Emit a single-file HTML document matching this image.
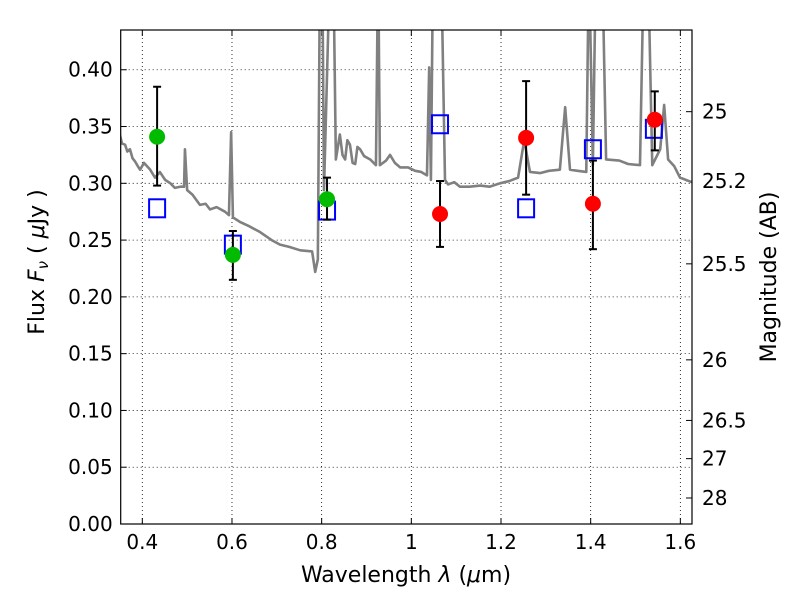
<!DOCTYPE html>
<html><head><meta charset="utf-8"><style>
body{margin:0;background:#fff}
svg text{font-family:"DejaVu Sans","Liberation Sans",sans-serif;font-size:20px;fill:#000}
svg text.title{font-size:22px}
</style></head><body>
<svg id="c" width="800" height="600"></svg>
<script>
const specLam=[0.3498,0.3547,0.3616,0.3665,0.3724,0.3783,0.3842,0.3901,0.3950,0.4038,0.4175,0.4283,0.4391,0.4509,0.4627,0.4725,0.4843,0.4931,0.4951,0.5000,0.5118,0.5285,0.5412,0.5510,0.5657,0.5844,0.5932,0.5981,0.6021,0.6178,0.6394,0.6629,0.6884,0.7071,0.7277,0.7522,0.7787,0.7856,0.7915,0.7964,0.8013,0.8052,0.8190,0.8258,0.8317,0.8406,0.8465,0.8524,0.8573,0.8631,0.8690,0.8749,0.8798,0.8857,0.8946,0.9083,0.9211,0.9260,0.9299,0.9436,0.9525,0.9633,0.9750,0.9927,1.0084,1.0221,1.0349,1.0398,1.0437,1.0486,1.0663,1.0751,1.0820,1.0957,1.1085,1.1301,1.1537,1.1743,1.1978,1.2184,1.2381,1.2518,1.2646,1.2872,1.3068,1.3313,1.3431,1.3539,1.3706,1.3902,1.3961,1.4049,1.4118,1.4255,1.4344,1.4638,1.4835,1.5100,1.5188,1.5276,1.5374,1.5551,1.5639,1.5727,1.5865,1.5993,1.6258];
const specFlux=[0.343,0.335,0.334,0.328,0.330,0.322,0.319,0.315,0.312,0.318,0.312,0.305,0.310,0.303,0.300,0.296,0.297,0.297,0.330,0.294,0.290,0.281,0.282,0.277,0.279,0.275,0.272,0.345,0.270,0.266,0.262,0.257,0.250,0.246,0.244,0.241,0.240,0.222,0.233,0.50,0.50,0.294,0.50,0.50,0.321,0.343,0.325,0.321,0.338,0.334,0.318,0.317,0.332,0.330,0.324,0.321,0.316,0.50,0.316,0.320,0.325,0.318,0.314,0.314,0.311,0.310,0.307,0.402,0.303,0.50,0.50,0.303,0.299,0.301,0.297,0.297,0.298,0.297,0.300,0.302,0.305,0.338,0.310,0.309,0.311,0.312,0.367,0.312,0.311,0.310,0.50,0.316,0.50,0.50,0.321,0.320,0.317,0.316,0.50,0.50,0.316,0.330,0.369,0.321,0.315,0.305,0.301];
const greenLam=[0.433,0.602,0.812], greenFlux=[0.341,0.237,0.286], greenLo=[0.298,0.215,0.268], greenHi=[0.385,0.258,0.305];
const redLam=[1.064,1.256,1.405,1.543], redFlux=[0.273,0.340,0.282,0.356], redLo=[0.244,0.290,0.242,0.329], redHi=[0.302,0.390,0.320,0.381];
const sqLam=[0.433,0.602,0.812,1.064,1.256,1.405,1.541], sqFlux=[0.278,0.246,0.276,0.352,0.278,0.330,0.348];
const xTicks=[0.4,0.6,0.8,1.0,1.2,1.4,1.6], xTickLabels=["0.4","0.6","0.8","1","1.2","1.4","1.6"];
const yTicks=[0,0.05,0.1,0.15,0.2,0.25,0.3,0.35,0.4];
const magTicks=[25,25.2,25.5,26,26.5,27,28], magLabels=["25","25.2","25.5","26","26.5","27","28"];
const L=120.7,R=692,T=30,B=524,X0=0.3518,X1=1.626,Y0=0,Y1=0.435;
const sx=v=>L+(v-X0)/(X1-X0)*(R-L), sy=v=>B-(v-Y0)/(Y1-Y0)*(B-T);
const svg=document.getElementById('c'),NS='http://www.w3.org/2000/svg';
function mk(t,a,p){const e=document.createElementNS(NS,t);for(const k in a)e.setAttribute(k,a[k]);(p||svg).appendChild(e);return e;}
const clip=mk('clipPath',{id:'pc'});mk('rect',{x:L,y:T,width:R-L,height:B-T},clip);
xTicks.forEach((v,i)=>{const x=sx(v);
 const g=mk('line',{x1:x,x2:x,y1:T,y2:B,stroke:'#000','stroke-width':0.8,'stroke-dasharray':'1,3'});
 
 mk('line',{x1:x,x2:x,y1:B,y2:B-6,stroke:'#000'});mk('line',{x1:x,x2:x,y1:T,y2:T+6,stroke:'#000'});
 const t=mk('text',{x:x,y:B+25,'text-anchor':'middle'});t.textContent=xTickLabels[i];
 });
yTicks.forEach(v=>{const y=sy(v);
 const g=mk('line',{x1:L,x2:R,y1:y,y2:y,stroke:'#000','stroke-width':0.8,'stroke-dasharray':'1,3'});
 
 mk('line',{x1:L,x2:L+6,y1:y,y2:y,stroke:'#000'});
 const t=mk('text',{x:L-8,y:y+7,'text-anchor':'end'});t.textContent=v.toFixed(2);
 });
magTicks.forEach((m,i)=>{const y=sy(Math.pow(10,(23.9-m)/2.5));
 mk('line',{x1:R-6,x2:R,y1:y,y2:y,stroke:'#000'});
 const t=mk('text',{x:R+10,y:y+7});t.textContent=magLabels[i];
 });
const pg=mk('g',{'clip-path':'url(#pc)'});
const sp=mk('polyline',{points:specLam.map((l,i)=>sx(l)+','+sy(specFlux[i])).join(' '),fill:'none',stroke:'#808080','stroke-width':2.6,'stroke-linejoin':'round'},pg);

sqLam.forEach((l,i)=>{const r=mk('rect',{x:sx(l)-8,y:sy(sqFlux[i])-9,width:16,height:18,fill:'none',stroke:'#0000ff','stroke-width':2},pg);
 });
function pts(lam,fl,lo,hi,col,name){lam.forEach((l,i)=>{const x=sx(l);
 const e=mk('g',{},pg);
 mk('line',{x1:x,x2:x,y1:sy(lo[i]),y2:sy(hi[i]),stroke:'#000','stroke-width':2},e);
 mk('line',{x1:x-4,x2:x+4,y1:sy(lo[i]),y2:sy(lo[i]),stroke:'#000','stroke-width':2},e);
 mk('line',{x1:x-4,x2:x+4,y1:sy(hi[i]),y2:sy(hi[i]),stroke:'#000','stroke-width':2},e);
 const c=mk('circle',{cx:x,cy:sy(fl[i]),r:8,fill:col},pg);
 });}
pts(greenLam,greenFlux,greenLo,greenHi,'#00bb00','green-observed');
pts(redLam,redFlux,redLo,redHi,'#ff0000','red-observed');
const fr=mk('rect',{x:L,y:T,width:R-L,height:B-T,fill:'none',stroke:'#000','stroke-width':1.2});

const xt=mk('text',{x:406,y:582,'text-anchor':'middle','class':'title'});xt.innerHTML='Wavelength  <tspan font-style="italic">λ</tspan> (<tspan font-style="italic">μ</tspan>m)';

const yt=mk('text',{transform:'translate(44,262) rotate(-90)','text-anchor':'middle','class':'title'});yt.innerHTML='Flux  <tspan font-style="italic">F</tspan><tspan font-style="italic" font-size="15" dy="4">ν</tspan><tspan dy="-4">  (  </tspan><tspan font-style="italic">μ</tspan>Jy )';

const rt=mk('text',{transform:'translate(776,277) rotate(-90)','text-anchor':'middle','class':'title'});rt.textContent='Magnitude (AB)';

</script></body></html>
